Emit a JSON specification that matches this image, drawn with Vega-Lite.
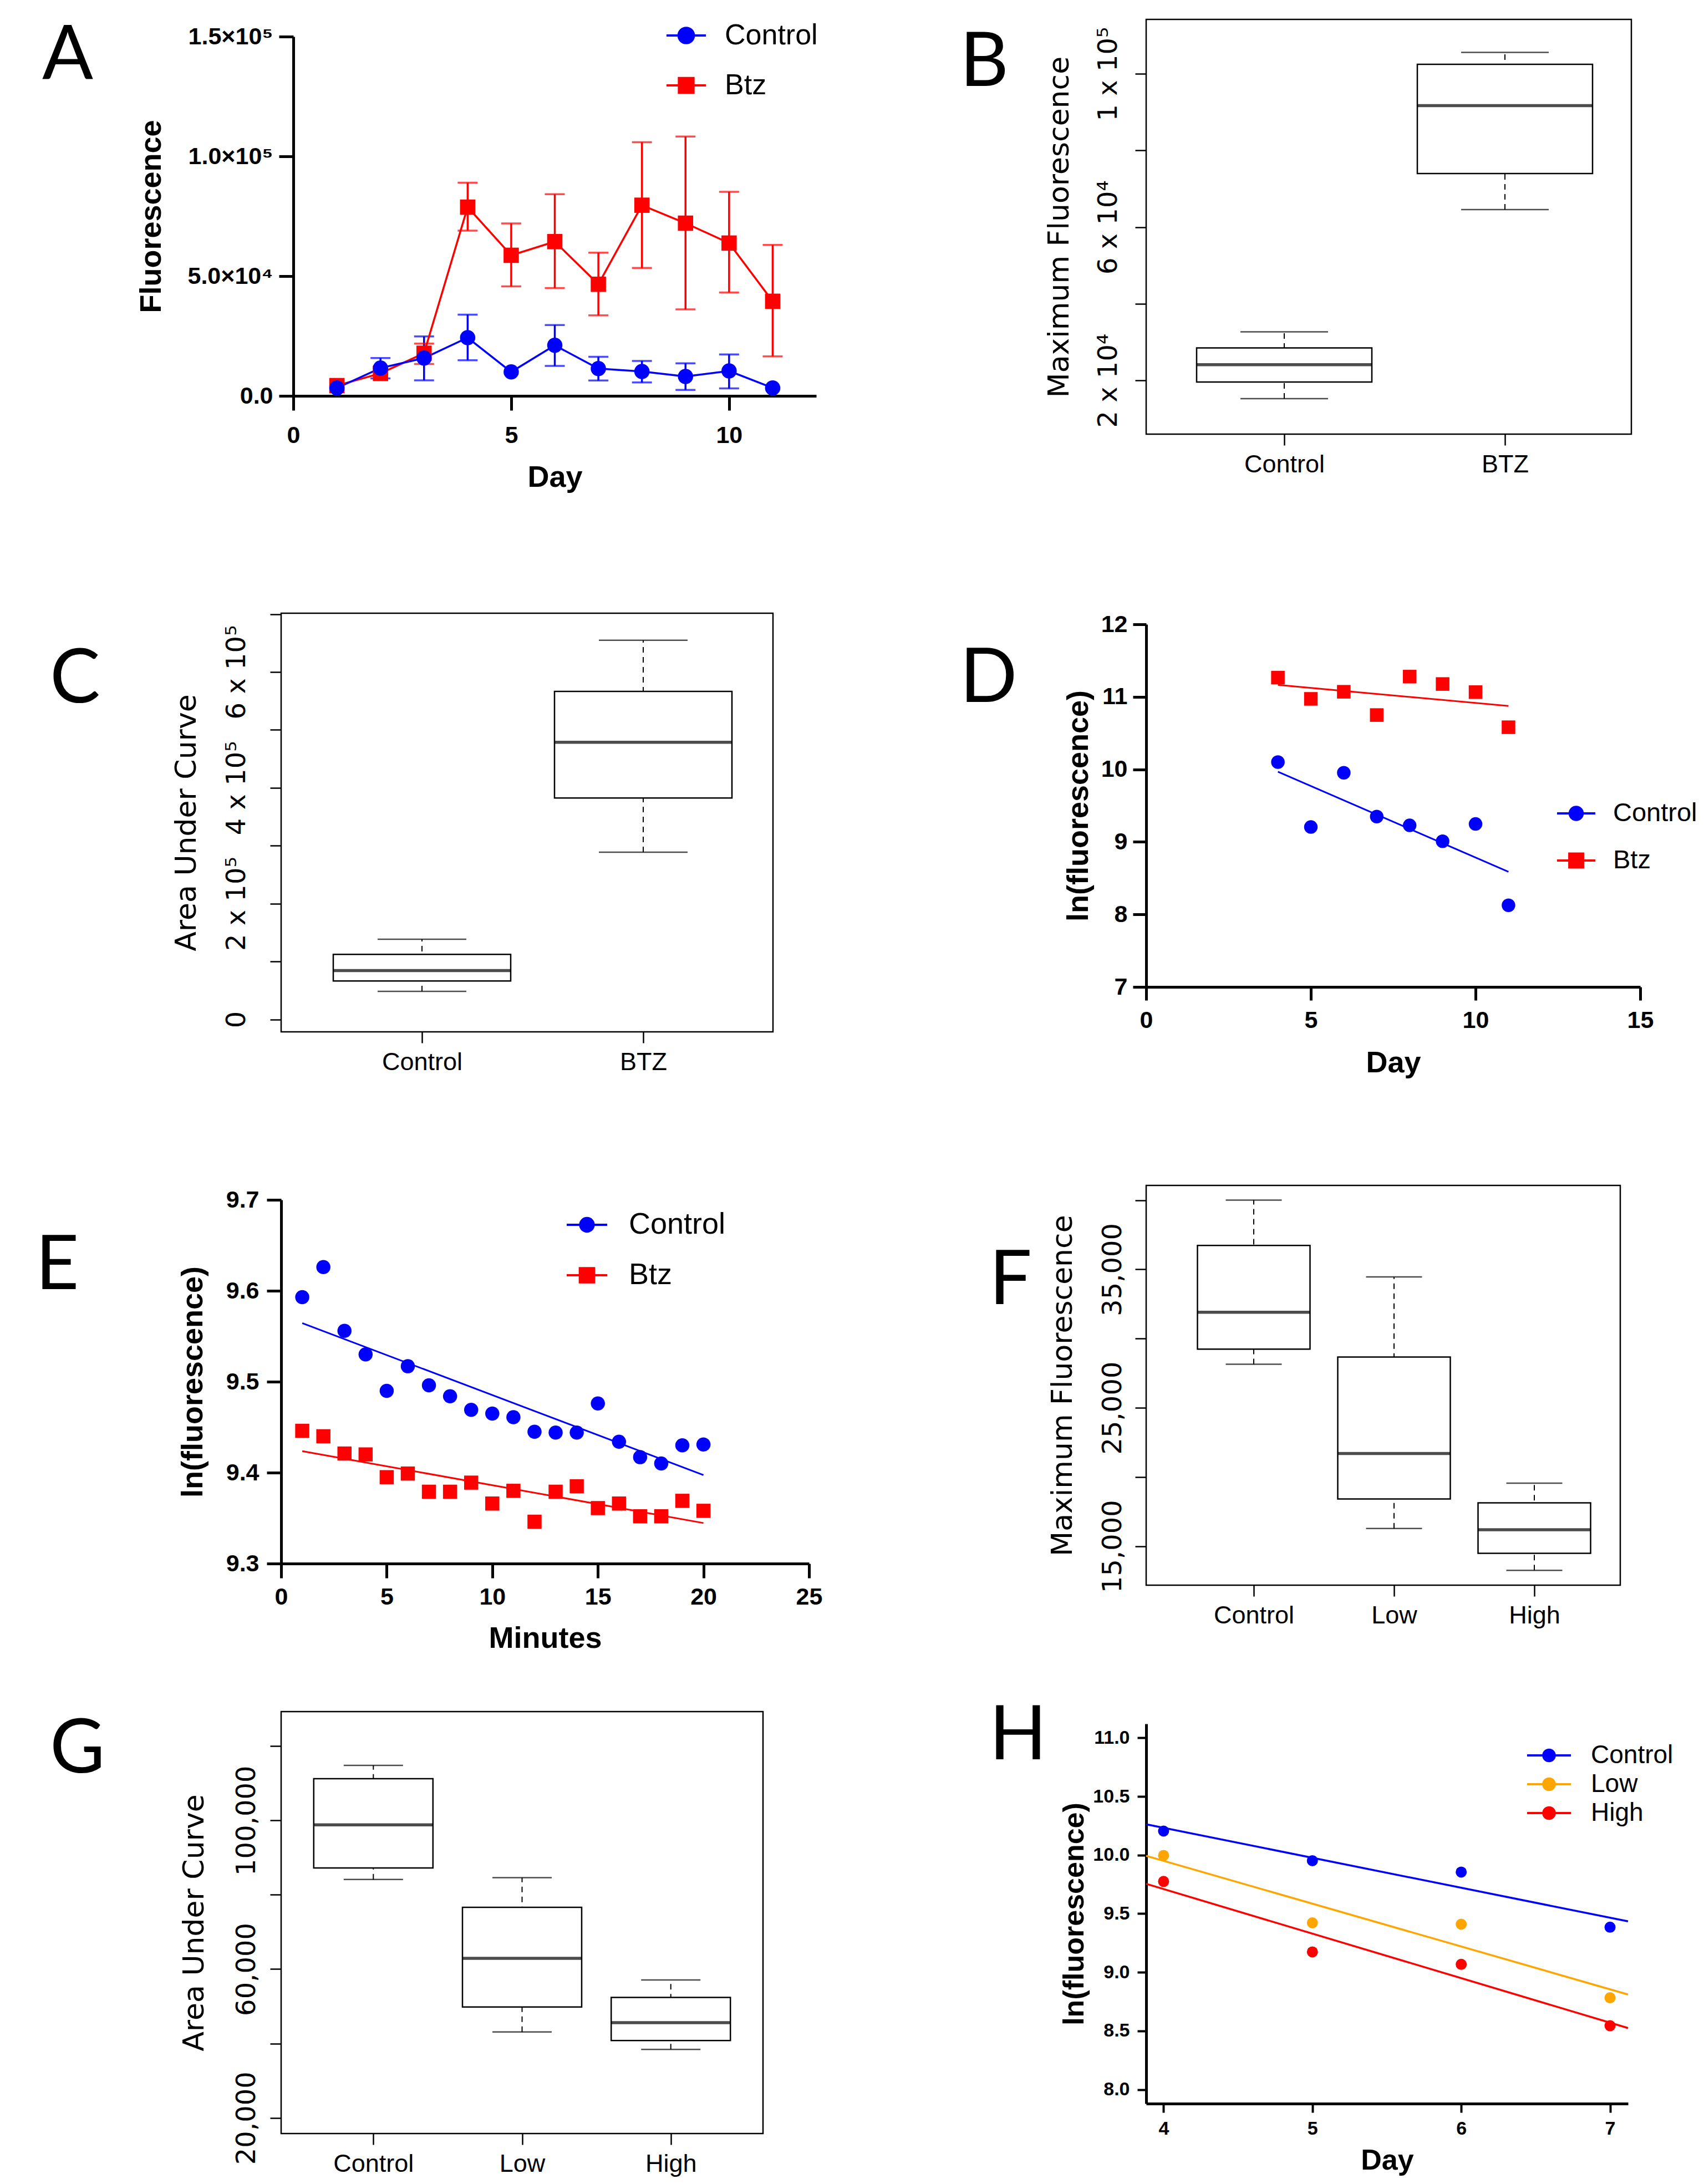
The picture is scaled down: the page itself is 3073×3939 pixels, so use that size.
{
  "$schema": "https://vega.github.io/schema/vega-lite/v6.json",
  "padding": 0,
  "background": "white",
  "columns": 4,
  "bounds": "flush",
  "spacing": 0,
  "resolve": {"scale": {"color": "independent", "shape": "independent"}, "legend": {"color": "independent", "shape": "independent"}},
  "config": {
    "view": {"stroke": null},
    "font": "Liberation Sans",
    "axis": {"domainColor": "#000", "domainWidth": 5, "tickColor": "#000", "tickWidth": 5, "tickSize": 26, "labelFont": "Liberation Sans", "labelFontWeight": "bold", "labelFontSize": 43, "labelColor": "#000", "labelPadding": 11, "labelLimit": 1000, "labelOverlap": false, "labelFlush": false, "titleFont": "Liberation Sans", "titleFontWeight": "bold", "titleFontSize": 54, "titleColor": "#000", "grid": false},
    "legend": {"labelLimit": 1000, "padding": 0, "labelFont": "Liberation Sans", "labelColor": "#000", "orient": "none", "symbolStrokeWidth": 2, "symbolOpacity": 1},
    "title": {"font": "Lato", "fontSize": 136, "fontWeight": "normal", "anchor": "start", "frame": "group", "offset": 0, "baseline": "alphabetic", "color": "#000"}
  },
  "concat": [
    {"width": 1, "height": 34, "view": {"stroke": "white"}, "data": {"values": []}, "mark": "point"},
    {"width": 1, "height": 1, "data": {"values": []}, "mark": "point"},
    {"width": 1, "height": 1, "data": {"values": []}, "mark": "point"},
    {"width": 1, "height": 1, "data": {"values": []}, "mark": "point"},

    {"width": 506, "height": 1, "data": {"values": []}, "mark": "point"},
    {
      "width": 965, "height": 679,
      "title": {"text": "A", "dx": -431, "dy": 147},
      "data": {"values": [
        {"group": "Btz", "day": 1, "mean": 4300, "lo": null, "hi": null},
        {"group": "Btz", "day": 2, "mean": 9400, "lo": null, "hi": null},
        {"group": "Btz", "day": 3, "mean": 17800, "lo": 13300, "hi": 21800},
        {"group": "Btz", "day": 4, "mean": 78800, "lo": 69000, "hi": 89000},
        {"group": "Btz", "day": 5, "mean": 58700, "lo": 45700, "hi": 72000},
        {"group": "Btz", "day": 6, "mean": 64400, "lo": 45000, "hi": 84200},
        {"group": "Btz", "day": 7, "mean": 46600, "lo": 33600, "hi": 59800},
        {"group": "Btz", "day": 8, "mean": 79600, "lo": 53400, "hi": 105900},
        {"group": "Btz", "day": 9, "mean": 72100, "lo": 36100, "hi": 108300},
        {"group": "Btz", "day": 10, "mean": 63800, "lo": 43200, "hi": 85200},
        {"group": "Btz", "day": 11, "mean": 39500, "lo": 16500, "hi": 63000},
        {"group": "Control", "day": 1, "mean": 3300, "lo": null, "hi": null},
        {"group": "Control", "day": 2, "mean": 11600, "lo": 7300, "hi": 15800},
        {"group": "Control", "day": 3, "mean": 15800, "lo": 6500, "hi": 24800},
        {"group": "Control", "day": 4, "mean": 24300, "lo": 14900, "hi": 33900},
        {"group": "Control", "day": 5, "mean": 10000, "lo": null, "hi": null},
        {"group": "Control", "day": 6, "mean": 21100, "lo": 12500, "hi": 29600},
        {"group": "Control", "day": 7, "mean": 11400, "lo": 6400, "hi": 16300},
        {"group": "Control", "day": 8, "mean": 10200, "lo": 5600, "hi": 14600},
        {"group": "Control", "day": 9, "mean": 8100, "lo": 2500, "hi": 13600},
        {"group": "Control", "day": 10, "mean": 10400, "lo": 3100, "hi": 17300},
        {"group": "Control", "day": 11, "mean": 3300, "lo": null, "hi": null}
      ]},
      "encoding": {
        "x": {"field": "day", "type": "quantitative", "title": "Day", "scale": {"domain": [0, 12], "nice": false, "range": [22, 965]}, "axis": {"values": [0, 5, 10], "labelPadding": 24, "titlePadding": 27}},
        "color": {"field": "group", "type": "nominal", "scale": {"domain": ["Control", "Btz"], "range": ["#0000ff", "#ff0000"]},
          "legend": {"title": null, "orient": "none", "legendX": 695, "legendY": -6.5, "symbolSize": 4761, "labelFontSize": 52, "labelOffset": 34, "rowPadding": 28}}
      },
      "layer": [
        {"mark": {"type": "rule", "strokeWidth": 3.5}, "encoding": {"y": {"field": "lo", "type": "quantitative", "title": "Fluorescence", "scale": {"domain": [0, 150000], "nice": false, "range": [679, 31]}, "axis": {"values": [0, 50000, 100000, 150000], "labelExpr": "datum.value == 0 ? '0.0' : datum.value == 50000 ? '5.0×10⁴' : datum.value == 100000 ? '1.0×10⁵' : '1.5×10⁵'", "offset": -22, "titlePadding": 38}}, "y2": {"field": "hi"}}},
        {"mark": {"type": "tick", "orient": "horizontal", "size": 36, "thickness": 3.5}, "encoding": {"y": {"field": "lo", "type": "quantitative", "title": "Fluorescence"}}},
        {"mark": {"type": "tick", "orient": "horizontal", "size": 36, "thickness": 3.5}, "encoding": {"y": {"field": "hi", "type": "quantitative", "title": "Fluorescence"}}},
        {"mark": {"type": "line", "strokeWidth": 3.5}, "encoding": {"y": {"field": "mean", "type": "quantitative", "title": "Fluorescence"}}},
        {"transform": [{"filter": "datum.group === 'Btz'"}], "mark": {"type": "point", "shape": "square", "filled": true, "opacity": 1, "size": 760}, "encoding": {"y": {"field": "mean", "type": "quantitative", "title": "Fluorescence"}}},
        {"transform": [{"filter": "datum.group === 'Control'"}], "mark": {"type": "point", "shape": "circle", "filled": true, "opacity": 1, "size": 760}, "encoding": {"y": {"field": "mean", "type": "quantitative", "title": "Fluorescence"}}},
        {"mark": {"type": "point", "filled": true, "opacity": 0, "size": 760}, "encoding": {
          "y": {"field": "mean", "type": "quantitative", "title": "Fluorescence"},
          "shape": {"field": "group", "type": "nominal", "scale": {"domain": ["Control", "Btz"], "range": ["M-1,-0.03H1V0.03H-1Z M-0.43,0A0.43,0.43,0,1,1,0.43,0A0.43,0.43,0,1,1,-0.43,0Z", "M-1,-0.03H1V0.03H-1Z M-0.41,-0.41H0.41V0.41H-0.41Z"]}}
        }}
      ]
    },
    {"width": 595, "height": 1, "data": {"values": []}, "mark": "point"},
    {
      "width": 875, "height": 748,
      "title": {"text": "B", "dx": -336, "dy": 153},
      "view": {"stroke": "#000", "strokeWidth": 2.5},
      "data": {"values": [
        {"group": "Control", "lower": 15250, "q1": 19600, "median": 24100, "q3": 28500, "upper": 32700},
        {"group": "BTZ", "lower": 64600, "q1": 74000, "median": 91700, "q3": 102500, "upper": 105600}
      ]},
      "encoding": {"x": {"field": "group", "type": "nominal", "scale": {"type": "point", "padding": 0, "range": [249, 647], "domain": ["Control", "BTZ"]}, "axis": {"title": null, "domain": false, "tickSize": 20, "tickWidth": 2.5, "labelAngle": 0, "labelFontWeight": "normal", "labelFontSize": 45, "labelPadding": 12}}},
      "layer": [
        {"mark": {"type": "rule", "strokeDash": [10, 8], "strokeWidth": 2, "color": "#000"}, "encoding": {"y": {"field": "lower", "type": "quantitative", "title": "Maximum Fluorescence", "scale": {"domain": [6000, 114200], "nice": false, "zero": false}, "axis": {"values": [20000, 40000, 60000, 80000, 100000], "labelExpr": "datum.value == 20000 ? '2 x 10⁴' : datum.value == 60000 ? '6 x 10⁴' : datum.value == 100000 ? '1 x 10⁵' : ''", "domain": false, "tickSize": 20, "tickWidth": 2.5, "labelAngle": 270, "labelAlign": "center", "labelBaseline": "alphabetic", "labelFont": "DejaVu Sans", "labelFontWeight": "normal", "labelFontSize": 48, "labelPadding": 34, "titleFont": "DejaVu Sans", "titleFontWeight": "normal", "titleFontSize": 52, "titlePadding": 38}}, "y2": {"field": "upper"}}},
        {"mark": {"type": "bar", "width": 316, "fill": "#fff", "stroke": "#000", "strokeWidth": 2.5}, "encoding": {"y": {"field": "q1", "type": "quantitative", "title": "Maximum Fluorescence"}, "y2": {"field": "q3"}}},
        {"mark": {"type": "tick", "size": 316, "thickness": 5.5, "color": "#000"}, "encoding": {"y": {"field": "median", "type": "quantitative", "title": "Maximum Fluorescence"}}},
        {"mark": {"type": "tick", "size": 158, "thickness": 2.5, "color": "#000"}, "encoding": {"y": {"field": "lower", "type": "quantitative", "title": "Maximum Fluorescence"}}},
        {"mark": {"type": "tick", "size": 158, "thickness": 2.5, "color": "#000"}, "encoding": {"y": {"field": "upper", "type": "quantitative", "title": "Maximum Fluorescence"}}}
      ]
    },

    {"width": 1, "height": 323, "data": {"values": []}, "mark": "point"},
    {"width": 1, "height": 1, "data": {"values": []}, "mark": "point"},
    {"width": 1, "height": 1, "data": {"values": []}, "mark": "point"},
    {"width": 1, "height": 1, "data": {"values": []}, "mark": "point"},

    {"width": 506, "height": 1, "data": {"values": []}, "mark": "point"},
    {
      "width": 887, "height": 755,
      "title": {"text": "C", "dx": -417, "dy": 194},
      "view": {"stroke": "#000", "strokeWidth": 2.5},
      "data": {"values": [
        {"group": "Control", "lower": 48300, "q1": 66400, "median": 84400, "q3": 112300, "upper": 138500},
        {"group": "BTZ", "lower": 288700, "q1": 382400, "median": 478500, "q3": 566400, "upper": 654800}
      ]},
      "encoding": {"x": {"field": "group", "type": "nominal", "scale": {"type": "point", "padding": 0, "range": [254, 653], "domain": ["Control", "BTZ"]}, "axis": {"title": null, "domain": false, "tickSize": 20, "tickWidth": 2.5, "labelAngle": 0, "labelFontWeight": "normal", "labelFontSize": 45, "labelPadding": 12}}},
      "layer": [
        {"mark": {"type": "rule", "strokeDash": [10, 8], "strokeWidth": 2, "color": "#000"}, "encoding": {"y": {"field": "lower", "type": "quantitative", "title": "Area Under Curve", "scale": {"domain": [-21500, 701500], "nice": false, "zero": false}, "axis": {"values": [0, 100000, 200000, 300000, 400000, 500000, 600000, 700000], "labelExpr": "datum.value == 0 ? '0' : datum.value == 200000 ? '2 x 10⁵' : datum.value == 400000 ? '4 x 10⁵' : datum.value == 600000 ? '6 x 10⁵' : ''", "domain": false, "tickSize": 20, "tickWidth": 2.5, "labelAngle": 270, "labelAlign": "center", "labelBaseline": "alphabetic", "labelFont": "DejaVu Sans", "labelFontWeight": "normal", "labelFontSize": 48, "labelPadding": 46, "titleFont": "DejaVu Sans", "titleFontWeight": "normal", "titleFontSize": 52, "titlePadding": 40}}, "y2": {"field": "upper"}}},
        {"mark": {"type": "bar", "width": 320, "fill": "#fff", "stroke": "#000", "strokeWidth": 2.5}, "encoding": {"y": {"field": "q1", "type": "quantitative", "title": "Area Under Curve"}, "y2": {"field": "q3"}}},
        {"mark": {"type": "tick", "size": 320, "thickness": 5.5, "color": "#000"}, "encoding": {"y": {"field": "median", "type": "quantitative", "title": "Area Under Curve"}}},
        {"mark": {"type": "tick", "size": 160, "thickness": 2.5, "color": "#000"}, "encoding": {"y": {"field": "lower", "type": "quantitative", "title": "Area Under Curve"}}},
        {"mark": {"type": "tick", "size": 160, "thickness": 2.5, "color": "#000"}, "encoding": {"y": {"field": "upper", "type": "quantitative", "title": "Area Under Curve"}}}
      ]
    },
    {"width": 595, "height": 1, "data": {"values": []}, "mark": "point"},
    {
      "width": 891, "height": 674,
      "title": {"text": "D", "dx": -336, "dy": 194},
      "data": {"values": [
        {"group": "Btz", "day": 4, "ln": 11.265},
        {"group": "Btz", "day": 5, "ln": 10.972},
        {"group": "Btz", "day": 6, "ln": 11.07},
        {"group": "Btz", "day": 7, "ln": 10.749},
        {"group": "Btz", "day": 8, "ln": 11.279},
        {"group": "Btz", "day": 9, "ln": 11.177},
        {"group": "Btz", "day": 10, "ln": 11.065},
        {"group": "Btz", "day": 11, "ln": 10.581},
        {"group": "Control", "day": 4, "ln": 10.1},
        {"group": "Control", "day": 5, "ln": 9.205},
        {"group": "Control", "day": 6, "ln": 9.953},
        {"group": "Control", "day": 7, "ln": 9.349},
        {"group": "Control", "day": 8, "ln": 9.228},
        {"group": "Control", "day": 9, "ln": 9.009},
        {"group": "Control", "day": 10, "ln": 9.247},
        {"group": "Control", "day": 11, "ln": 8.126}
      ]},
      "encoding": {
        "x": {"field": "day", "type": "quantitative", "title": "Day", "scale": {"domain": [0, 15], "nice": false}, "axis": {"values": [0, 5, 10, 15], "tickSize": 24, "labelPadding": 15, "titlePadding": 28}},
        "y": {"field": "ln", "type": "quantitative", "title": "ln(fluorescence)", "scale": {"domain": [7, 12], "nice": false, "zero": false, "range": [674, 20]}, "axis": {"values": [7, 8, 9, 10, 11, 12], "tickSize": 24, "labelPadding": 10, "titlePadding": 13}},
        "color": {"field": "group", "type": "nominal", "scale": {"domain": ["Control", "Btz"], "range": ["#0000ff", "#ff0000"]},
          "legend": {"title": null, "orient": "none", "legendX": 741, "legendY": 326.5, "symbolSize": 4489, "labelFontSize": 47, "labelOffset": 32, "rowPadding": 27}}
      },
      "layer": [
        {"transform": [{"regression": "ln", "on": "day", "groupby": ["group"]}], "mark": {"type": "line", "strokeWidth": 3}},
        {"transform": [{"filter": "datum.group === 'Btz'"}], "mark": {"type": "point", "shape": "square", "filled": true, "opacity": 1, "size": 600}},
        {"transform": [{"filter": "datum.group === 'Control'"}], "mark": {"type": "point", "shape": "circle", "filled": true, "opacity": 1, "size": 600}},
        {"mark": {"type": "point", "filled": true, "opacity": 0, "size": 600}, "encoding": {
          "shape": {"field": "group", "type": "nominal", "scale": {"domain": ["Control", "Btz"], "range": ["M-1,-0.03H1V0.03H-1Z M-0.38,0A0.38,0.38,0,1,1,0.38,0A0.38,0.38,0,1,1,-0.38,0Z", "M-1,-0.03H1V0.03H-1Z M-0.4,-0.4H0.4V0.4H-0.4Z"]}}
        }}
      ]
    },

    {"width": 1, "height": 277, "data": {"values": []}, "mark": "point"},
    {"width": 1, "height": 1, "data": {"values": []}, "mark": "point"},
    {"width": 1, "height": 1, "data": {"values": []}, "mark": "point"},
    {"width": 1, "height": 1, "data": {"values": []}, "mark": "point"},

    {"width": 506, "height": 1, "data": {"values": []}, "mark": "point"},
    {
      "width": 952, "height": 682,
      "title": {"text": "E", "dx": -443, "dy": 220},
      "data": {"values": [
        {"group": "Control", "minute": 1, "ln": 9.593},
        {"group": "Control", "minute": 2, "ln": 9.626},
        {"group": "Control", "minute": 3, "ln": 9.556},
        {"group": "Control", "minute": 4, "ln": 9.53},
        {"group": "Control", "minute": 5, "ln": 9.49},
        {"group": "Control", "minute": 6, "ln": 9.517},
        {"group": "Control", "minute": 7, "ln": 9.496},
        {"group": "Control", "minute": 8, "ln": 9.484},
        {"group": "Control", "minute": 9, "ln": 9.469},
        {"group": "Control", "minute": 10, "ln": 9.465},
        {"group": "Control", "minute": 11, "ln": 9.461},
        {"group": "Control", "minute": 12, "ln": 9.445},
        {"group": "Control", "minute": 13, "ln": 9.444},
        {"group": "Control", "minute": 14, "ln": 9.444},
        {"group": "Control", "minute": 15, "ln": 9.476},
        {"group": "Control", "minute": 16, "ln": 9.434},
        {"group": "Control", "minute": 17, "ln": 9.417},
        {"group": "Control", "minute": 18, "ln": 9.41},
        {"group": "Control", "minute": 19, "ln": 9.43},
        {"group": "Control", "minute": 20, "ln": 9.431},
        {"group": "Btz", "minute": 1, "ln": 9.446},
        {"group": "Btz", "minute": 2, "ln": 9.44},
        {"group": "Btz", "minute": 3, "ln": 9.421},
        {"group": "Btz", "minute": 4, "ln": 9.42},
        {"group": "Btz", "minute": 5, "ln": 9.395},
        {"group": "Btz", "minute": 6, "ln": 9.399},
        {"group": "Btz", "minute": 7, "ln": 9.379},
        {"group": "Btz", "minute": 8, "ln": 9.379},
        {"group": "Btz", "minute": 9, "ln": 9.389},
        {"group": "Btz", "minute": 10, "ln": 9.366},
        {"group": "Btz", "minute": 11, "ln": 9.38},
        {"group": "Btz", "minute": 12, "ln": 9.346},
        {"group": "Btz", "minute": 13, "ln": 9.379},
        {"group": "Btz", "minute": 14, "ln": 9.385},
        {"group": "Btz", "minute": 15, "ln": 9.361},
        {"group": "Btz", "minute": 16, "ln": 9.366},
        {"group": "Btz", "minute": 17, "ln": 9.352},
        {"group": "Btz", "minute": 18, "ln": 9.352},
        {"group": "Btz", "minute": 19, "ln": 9.369},
        {"group": "Btz", "minute": 20, "ln": 9.358}
      ]},
      "encoding": {
        "x": {"field": "minute", "type": "quantitative", "title": "Minutes", "scale": {"domain": [0, 25], "nice": false}, "axis": {"values": [0, 5, 10, 15, 20, 25], "labelPadding": 13, "titlePadding": 26}},
        "y": {"field": "ln", "type": "quantitative", "title": "ln(fluorescence)", "scale": {"domain": [9.3, 9.7], "nice": false, "zero": false, "range": [682, 26]}, "axis": {"values": [9.3, 9.4, 9.5, 9.6, 9.7], "format": ".1f", "labelPadding": 14, "titlePadding": 32}},
        "color": {"field": "group", "type": "nominal", "scale": {"domain": ["Control", "Btz"], "range": ["#0000ff", "#ff0000"]},
          "legend": {"title": null, "orient": "none", "legendX": 515, "legendY": 34.5, "symbolSize": 5041, "labelFontSize": 54, "labelOffset": 39, "rowPadding": 27}}
      },
      "layer": [
        {"transform": [{"regression": "ln", "on": "minute", "groupby": ["group"]}], "mark": {"type": "line", "strokeWidth": 3}},
        {"transform": [{"filter": "datum.group === 'Btz'"}], "mark": {"type": "point", "shape": "square", "filled": true, "opacity": 1, "size": 650}},
        {"transform": [{"filter": "datum.group === 'Control'"}], "mark": {"type": "point", "shape": "circle", "filled": true, "opacity": 1, "size": 650}},
        {"mark": {"type": "point", "filled": true, "opacity": 0, "size": 650}, "encoding": {
          "shape": {"field": "group", "type": "nominal", "scale": {"domain": ["Control", "Btz"], "range": ["M-1,-0.03H1V0.03H-1Z M-0.37,0A0.37,0.37,0,1,1,0.37,0A0.37,0.37,0,1,1,-0.37,0Z", "M-1,-0.03H1V0.03H-1Z M-0.39,-0.39H0.39V0.39H-0.39Z"]}}
        }}
      ]
    },
    {"width": 595, "height": 1, "data": {"values": []}, "mark": "point"},
    {
      "width": 855, "height": 721,
      "title": {"text": "F", "dx": -283, "dy": 247},
      "view": {"stroke": "#000", "strokeWidth": 2.5},
      "data": {"values": [
        {"group": "Control", "lower": 28150, "q1": 29240, "median": 31900, "q3": 36730, "upper": 40000},
        {"group": "Low", "lower": 16280, "q1": 18410, "median": 21700, "q3": 28670, "upper": 34455},
        {"group": "High", "lower": 13250, "q1": 14480, "median": 16190, "q3": 18130, "upper": 19550}
      ]},
      "encoding": {"x": {"field": "group", "type": "nominal", "scale": {"type": "point", "padding": 0, "range": [194, 700], "domain": ["Control", "Low", "High"]}, "axis": {"title": null, "domain": false, "tickSize": 20, "tickWidth": 2.5, "labelAngle": 0, "labelFontWeight": "normal", "labelFontSize": 45, "labelPadding": 12}}},
      "layer": [
        {"mark": {"type": "rule", "strokeDash": [10, 8], "strokeWidth": 2, "color": "#000"}, "encoding": {"y": {"field": "lower", "type": "quantitative", "title": "Maximum Fluorescence", "scale": {"domain": [12180, 41066], "nice": false, "zero": false}, "axis": {"values": [15000, 20000, 25000, 30000, 35000, 40000], "labelExpr": "datum.value == 15000 ? '15,000' : datum.value == 25000 ? '25,000' : datum.value == 35000 ? '35,000' : ''", "domain": false, "tickSize": 20, "tickWidth": 2.5, "labelAngle": 270, "labelAlign": "center", "labelBaseline": "alphabetic", "labelFont": "DejaVu Sans", "labelFontWeight": "normal", "labelFontSize": 48, "labelPadding": 26, "titleFont": "DejaVu Sans", "titleFontWeight": "normal", "titleFontSize": 52, "titlePadding": 40}}, "y2": {"field": "upper"}}},
        {"mark": {"type": "bar", "width": 203, "fill": "#fff", "stroke": "#000", "strokeWidth": 2.5}, "encoding": {"y": {"field": "q1", "type": "quantitative", "title": "Maximum Fluorescence"}, "y2": {"field": "q3"}}},
        {"mark": {"type": "tick", "size": 203, "thickness": 5.5, "color": "#000"}, "encoding": {"y": {"field": "median", "type": "quantitative", "title": "Maximum Fluorescence"}}},
        {"mark": {"type": "tick", "size": 101, "thickness": 2.5, "color": "#000"}, "encoding": {"y": {"field": "lower", "type": "quantitative", "title": "Maximum Fluorescence"}}},
        {"mark": {"type": "tick", "size": 101, "thickness": 2.5, "color": "#000"}, "encoding": {"y": {"field": "upper", "type": "quantitative", "title": "Maximum Fluorescence"}}}
      ]
    },

    {"width": 1, "height": 228, "data": {"values": []}, "mark": "point"},
    {"width": 1, "height": 1, "data": {"values": []}, "mark": "point"},
    {"width": 1, "height": 1, "data": {"values": []}, "mark": "point"},
    {"width": 1, "height": 1, "data": {"values": []}, "mark": "point"},

    {"width": 506, "height": 1, "data": {"values": []}, "mark": "point"},
    {
      "width": 869, "height": 761,
      "title": {"text": "G", "dx": -417, "dy": 143},
      "view": {"stroke": "#000", "strokeWidth": 2.5},
      "data": {"values": [
        {"group": "Control", "lower": 84100, "q1": 87200, "median": 98800, "q3": 111200, "upper": 114800},
        {"group": "Low", "lower": 43100, "q1": 49800, "median": 62900, "q3": 76600, "upper": 84600},
        {"group": "High", "lower": 38400, "q1": 40800, "median": 45600, "q3": 52400, "upper": 57100}
      ]},
      "encoding": {"x": {"field": "group", "type": "nominal", "scale": {"type": "point", "padding": 0.62, "domain": ["Control", "Low", "High"]}, "axis": {"title": null, "domain": false, "tickSize": 20, "tickWidth": 2.5, "labelAngle": 0, "labelFontWeight": "normal", "labelFontSize": 45, "labelPadding": 12}}},
      "layer": [
        {"mark": {"type": "rule", "strokeDash": [10, 8], "strokeWidth": 2, "color": "#000"}, "encoding": {"y": {"field": "lower", "type": "quantitative", "title": "Area Under Curve", "scale": {"domain": [15780, 129250], "nice": false, "zero": false}, "axis": {"values": [20000, 40000, 60000, 80000, 100000, 120000], "labelExpr": "datum.value == 20000 ? '20,000' : datum.value == 60000 ? '60,000' : datum.value == 100000 ? '100,000' : ''", "domain": false, "tickSize": 20, "tickWidth": 2.5, "labelAngle": 270, "labelAlign": "center", "labelBaseline": "alphabetic", "labelFont": "DejaVu Sans", "labelFontWeight": "normal", "labelFontSize": 48, "labelPadding": 28, "titleFont": "DejaVu Sans", "titleFontWeight": "normal", "titleFontSize": 52, "titlePadding": 44}}, "y2": {"field": "upper"}}},
        {"mark": {"type": "bar", "width": 215, "fill": "#fff", "stroke": "#000", "strokeWidth": 2.5}, "encoding": {"y": {"field": "q1", "type": "quantitative", "title": "Area Under Curve"}, "y2": {"field": "q3"}}},
        {"mark": {"type": "tick", "size": 215, "thickness": 5.5, "color": "#000"}, "encoding": {"y": {"field": "median", "type": "quantitative", "title": "Area Under Curve"}}},
        {"mark": {"type": "tick", "size": 107, "thickness": 2.5, "color": "#000"}, "encoding": {"y": {"field": "lower", "type": "quantitative", "title": "Area Under Curve"}}},
        {"mark": {"type": "tick", "size": 107, "thickness": 2.5, "color": "#000"}, "encoding": {"y": {"field": "upper", "type": "quantitative", "title": "Area Under Curve"}}}
      ]
    },
    {"width": 595, "height": 1, "data": {"values": []}, "mark": "point"},
    {
      "width": 869, "height": 707,
      "title": {"text": "H", "dx": -283, "dy": 119},
      "data": {"values": [
        {"group": "Control", "day": 4, "ln": 10.205},
        {"group": "Control", "day": 5, "ln": 9.952},
        {"group": "Control", "day": 6, "ln": 9.855},
        {"group": "Control", "day": 7, "ln": 9.385},
        {"group": "Low", "day": 4, "ln": 9.997},
        {"group": "Low", "day": 5, "ln": 9.422},
        {"group": "Low", "day": 6, "ln": 9.41},
        {"group": "Low", "day": 7, "ln": 8.783},
        {"group": "High", "day": 4, "ln": 9.775},
        {"group": "High", "day": 5, "ln": 9.174},
        {"group": "High", "day": 6, "ln": 9.068},
        {"group": "High", "day": 7, "ln": 8.544}
      ]},
      "encoding": {
        "x": {"field": "day", "type": "quantitative", "title": "Day", "scale": {"domain": [3.883, 7.121], "nice": false, "zero": false}, "axis": {"values": [4, 5, 6, 7], "tickSize": 16, "tickWidth": 4, "labelFontSize": 34, "labelPadding": 12, "titleFontSize": 52, "titlePadding": 15}},
        "y": {"field": "ln", "type": "quantitative", "title": "ln(fluorescence)", "scale": {"domain": [7.88, 11.12], "nice": false, "zero": false, "range": [707, 22]}, "axis": {"values": [8, 8.5, 9, 9.5, 10, 10.5, 11], "format": ".1f", "tickSize": 16, "tickWidth": 4, "labelFontSize": 34, "labelPadding": 14, "titleFontSize": 52, "titlePadding": 6}},
        "color": {"field": "group", "type": "nominal", "scale": {"domain": ["Control", "Low", "High"], "range": ["#0000ff", "#ffa500", "#ff0000"]},
          "legend": {"title": null, "orient": "none", "legendX": 698, "legendY": 50.5, "symbolSize": 3025, "labelFontSize": 46, "labelOffset": 47, "rowPadding": 0,
            "symbolType": "M-1.4,-0.036H1.4V0.036H-1.4Z M-0.41,0A0.41,0.41,0,1,1,0.41,0A0.41,0.41,0,1,1,-0.41,0Z"}}
      },
      "layer": [
        {"transform": [{"regression": "ln", "on": "day", "groupby": ["group"], "extent": [3.883, 7.121]}], "mark": {"type": "line", "strokeWidth": 3.5}},
        {"mark": {"type": "point", "filled": true, "opacity": 1, "size": 400}}
      ]
    }
  ]
}
